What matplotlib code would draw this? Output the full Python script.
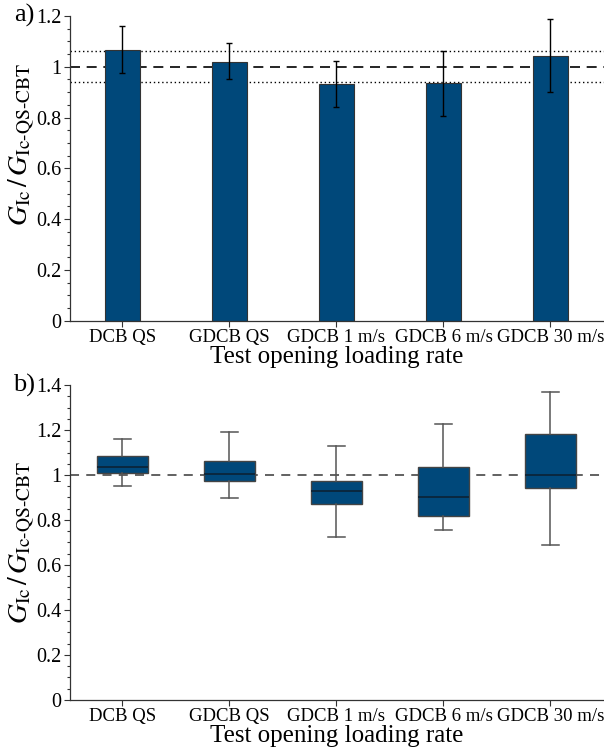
import matplotlib

matplotlib.use("Agg")
import matplotlib.pyplot as plt
from matplotlib.ticker import MultipleLocator

# normalised fracture toughness, bar chart (mean +/- error)
labels = ["DCB QS", "GDCB QS", "GDCB 1 m/s", "GDCB 6 m/s", "GDCB 30 m/s"]
means = [1.067, 1.020, 0.933, 0.937, 1.043]
err_low = [0.090, 0.070, 0.090, 0.130, 0.141]
err_high = [0.094, 0.074, 0.091, 0.126, 0.146]
band = [0.941, 1.063]

# box plot stats per test
whislo = [0.951, 0.896, 0.723, 0.754, 0.688]
q1 = [1.010, 0.972, 0.872, 0.818, 0.941]
med = [1.037, 1.003, 0.927, 0.904, 1.000]
q3 = [1.086, 1.061, 0.975, 1.037, 1.184]
whishi = [1.160, 1.192, 1.130, 1.227, 1.370]

BLUE = "#00487a"
ylab = r"$G_{\mathrm{Ic}}\,/\,G_{\mathrm{Ic\text{-}QS\text{-}CBT}}$"

plt.rcParams.update({
    "font.family": ["Liberation Serif", "DejaVu Serif"],
    "mathtext.fontset": "stix",
    "axes.spines.top": False,
    "axes.spines.right": False,
    "axes.linewidth": 0.9,
    "axes.edgecolor": "#333333",
    "xtick.labelsize": 13.5,
    "ytick.labelsize": 14.5,
})

fig = plt.figure(figsize=(6.04, 7.55), dpi=100, facecolor="white")
ax1 = fig.add_axes([0.116, 0.575, 0.884, 0.404])
ax2 = fig.add_axes([0.116, 0.073, 0.884, 0.417])

x = list(range(len(labels)))

# a) bars
ax1.bar(x, means, width=0.32, color=BLUE, edgecolor="#333333", linewidth=0.8, zorder=2)
ax1.errorbar(x, means, yerr=[err_low, err_high], fmt="none", ecolor="black",
             elinewidth=1.0, capsize=2.5, capthick=1.0, zorder=3)
ax1.axhline(1.0, color="black", linestyle=(0, (6, 4)), linewidth=1.2, zorder=1)
for b in band:
    ax1.axhline(b, color="black", linestyle=(0, (1, 2)), linewidth=1.0, zorder=1)
ax1.set_ylim(0, 1.2)
ax1.yaxis.set_minor_locator(MultipleLocator(0.05))
ax1.set_yticks([0, 0.2, 0.4, 0.6, 0.8, 1.0, 1.2], ["0", "0.2", "0.4", "0.6", "0.8", "1", "1.2"])

# b) boxes
stats = []
for i in range(len(labels)):
    stats.append({"whislo": whislo[i], "q1": q1[i], "med": med[i], "q3": q3[i],
                  "whishi": whishi[i], "fliers": []})
ax2.axhline(1.0, color="#555555", linestyle=(0, (5, 4)), linewidth=1.3, zorder=1)
ax2.bxp(stats, positions=x, widths=0.48, patch_artist=True, showfliers=False,
        capwidths=0.15,
        boxprops=dict(facecolor=BLUE, edgecolor="#444444", linewidth=1.0),
        medianprops=dict(color="#0b2235", linewidth=1.2),
        whiskerprops=dict(color="#555555", linewidth=1.1),
        capprops=dict(color="#555555", linewidth=1.1), zorder=2)
ax2.set_ylim(0, 1.4)
ax2.set_yticks([0, 0.2, 0.4, 0.6, 0.8, 1.0, 1.2, 1.4],
               ["0", "0.2", "0.4", "0.6", "0.8", "1", "1.2", "1.4"])
ax2.yaxis.set_minor_locator(MultipleLocator(0.05))

for ax, tag, ly in ((ax1, "a)", 0.58), (ax2, "b)", 0.5)):
    ax.set_xlim(-0.49, 4.5)
    ax.set_xticks(x, labels)
    ax.tick_params(axis="both", which="major", direction="out", length=4.5, width=0.8, color="#333333", pad=1.5)
    ax.tick_params(axis="y", which="minor", direction="out", length=2.5, width=0.8, color="#333333")
    ax.set_xlabel("Test opening loading rate", fontsize=18, labelpad=0)
    ax.set_ylabel(ylab, fontsize=20)
    ax.yaxis.set_label_coords(-0.062, ly)
    ax.text(-0.066, 1.0, tag, transform=ax.transAxes, fontsize=19, ha="right", va="center")

fig.savefig("out.png", dpi=100)
plt.close(fig)
